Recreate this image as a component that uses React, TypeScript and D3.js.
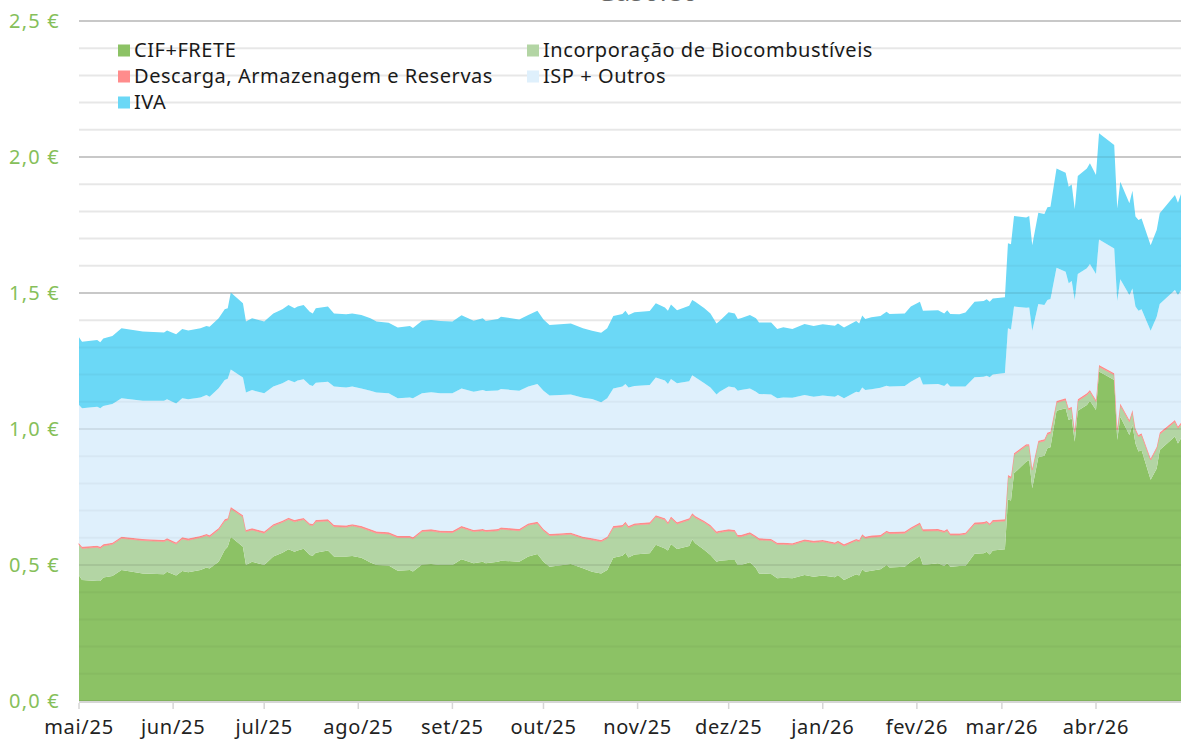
import React from "react";
import * as d3 from "d3";

const dates = [
  "2025-05-01","2025-05-02","2025-05-07","2025-05-08","2025-05-09","2025-05-12","2025-05-15","2025-05-22","2025-05-29","2025-05-30",
  "2025-06-02","2025-06-04","2025-06-06","2025-06-10","2025-06-12","2025-06-13","2025-06-16","2025-06-18","2025-06-19","2025-06-20",
  "2025-06-24","2025-06-25","2025-06-27","2025-07-01","2025-07-04","2025-07-07","2025-07-09","2025-07-11","2025-07-12","2025-07-14",
  "2025-07-16","2025-07-17","2025-07-18","2025-07-22","2025-07-24","2025-07-28","2025-07-30","2025-08-02","2025-08-05","2025-08-07",
  "2025-08-11","2025-08-14","2025-08-18","2025-08-19","2025-08-22","2025-08-25","2025-08-28","2025-09-01","2025-09-04","2025-09-08",
  "2025-09-11","2025-09-12","2025-09-16","2025-09-17","2025-09-23","2025-09-26","2025-09-29","2025-10-01","2025-10-03","2025-10-10",
  "2025-10-14","2025-10-17","2025-10-20","2025-10-22","2025-10-24","2025-10-27","2025-10-28","2025-10-29","2025-10-31","2025-11-05",
  "2025-11-07","2025-11-10","2025-11-11","2025-11-12","2025-11-14","2025-11-18","2025-11-19","2025-11-20","2025-11-23","2025-11-25",
  "2025-11-27","2025-11-28","2025-12-01","2025-12-03","2025-12-04","2025-12-05","2025-12-08","2025-12-10","2025-12-11","2025-12-15",
  "2025-12-17","2025-12-19","2025-12-22","2025-12-26","2025-12-29","2026-01-01","2026-01-05","2026-01-06","2026-01-08","2026-01-12",
  "2026-01-13","2026-01-14","2026-01-15","2026-01-17","2026-01-20","2026-01-22","2026-01-23","2026-01-28","2026-01-30","2026-02-02",
  "2026-02-03","2026-02-08","2026-02-10","2026-02-11","2026-02-12","2026-02-15","2026-02-17","2026-02-20","2026-02-23","2026-02-24",
  "2026-02-25","2026-02-26","2026-03-02","2026-03-03","2026-03-04","2026-03-05","2026-03-09","2026-03-10","2026-03-11","2026-03-13",
  "2026-03-15","2026-03-16","2026-03-17","2026-03-19","2026-03-22","2026-03-23","2026-03-24","2026-03-25","2026-03-26","2026-03-29",
  "2026-03-30","2026-04-01","2026-04-02","2026-04-07","2026-04-08","2026-04-09","2026-04-12","2026-04-13","2026-04-14","2026-04-15",
  "2026-04-16","2026-04-19","2026-04-21","2026-04-22","2026-04-27","2026-04-28","2026-04-29",
];

const cif = [
  0.461,0.445,0.441,0.441,0.454,0.460,0.482,0.469,0.466,0.475,
  0.461,0.478,0.473,0.482,0.491,0.487,0.512,0.555,0.567,0.604,
  0.567,0.500,0.512,0.500,0.531,0.545,0.558,0.549,0.553,0.560,
  0.537,0.534,0.545,0.553,0.531,0.531,0.533,0.527,0.509,0.500,
  0.498,0.479,0.482,0.476,0.502,0.504,0.500,0.500,0.521,0.506,
  0.512,0.506,0.512,0.516,0.512,0.531,0.540,0.512,0.494,0.504,
  0.488,0.475,0.469,0.482,0.527,0.534,0.545,0.528,0.539,0.543,
  0.574,0.561,0.553,0.577,0.559,0.570,0.594,0.580,0.555,0.537,
  0.512,0.516,0.518,0.518,0.500,0.500,0.510,0.488,0.469,0.467,
  0.451,0.453,0.451,0.463,0.457,0.461,0.455,0.463,0.445,0.466,
  0.461,0.484,0.475,0.479,0.484,0.500,0.491,0.494,0.512,0.533,
  0.500,0.506,0.496,0.506,0.494,0.496,0.496,0.541,0.543,0.549,
  0.539,0.553,0.558,0.741,0.737,0.837,0.880,0.886,0.782,0.896,
  0.902,0.929,0.933,1.067,1.076,1.033,1.039,0.953,1.067,1.088,
  1.104,1.070,1.211,1.180,0.960,1.045,0.978,1.015,0.947,0.917,
  0.923,0.813,0.855,0.923,0.972,0.947,0.966,
];

const bio = [
  0.113,0.116,0.124,0.120,0.116,0.116,0.116,0.121,0.120,0.117,
  0.116,0.118,0.118,0.119,0.117,0.116,0.118,0.107,0.099,0.103,
  0.110,0.123,0.117,0.117,0.113,0.112,0.110,0.110,0.109,0.107,
  0.110,0.111,0.114,0.109,0.110,0.108,0.111,0.110,0.116,0.117,
  0.116,0.122,0.119,0.120,0.121,0.121,0.120,0.119,0.116,0.117,
  0.114,0.117,0.114,0.116,0.114,0.116,0.113,0.114,0.114,0.109,
  0.110,0.117,0.117,0.116,0.110,0.107,0.108,0.109,0.108,0.108,
  0.103,0.105,0.098,0.095,0.092,0.096,0.090,0.094,0.101,0.104,
  0.105,0.104,0.107,0.105,0.104,0.104,0.104,0.113,0.123,0.123,
  0.125,0.123,0.123,0.125,0.126,0.125,0.122,0.120,0.125,0.124,
  0.125,0.123,0.123,0.123,0.120,0.120,0.124,0.123,0.120,0.117,
  0.125,0.120,0.124,0.120,0.116,0.114,0.117,0.109,0.109,0.107,
  0.108,0.106,0.104,0.084,0.082,0.068,0.058,0.052,0.067,0.055,
  0.054,0.052,0.051,0.030,0.031,0.037,0.037,0.037,0.036,0.037,
  0.033,0.031,0.018,0.019,0.036,0.043,0.049,0.049,0.049,0.055,
  0.055,0.073,0.074,0.058,0.055,0.056,0.051,
];

const descarga = [
  0.006,0.006,0.006,0.006,0.006,0.006,0.006,0.006,0.006,0.006,
  0.006,0.006,0.006,0.006,0.006,0.006,0.006,0.006,0.006,0.006,
  0.006,0.006,0.006,0.006,0.006,0.006,0.006,0.006,0.006,0.006,
  0.006,0.006,0.006,0.006,0.006,0.006,0.006,0.006,0.006,0.006,
  0.006,0.006,0.006,0.006,0.006,0.006,0.006,0.006,0.006,0.006,
  0.006,0.006,0.006,0.006,0.006,0.006,0.006,0.006,0.006,0.006,
  0.006,0.006,0.006,0.006,0.006,0.006,0.006,0.006,0.006,0.006,
  0.006,0.006,0.006,0.006,0.006,0.006,0.006,0.006,0.006,0.006,
  0.006,0.006,0.006,0.006,0.006,0.006,0.006,0.006,0.006,0.006,
  0.006,0.006,0.006,0.006,0.006,0.006,0.006,0.006,0.006,0.006,
  0.006,0.006,0.006,0.006,0.006,0.006,0.006,0.006,0.006,0.006,
  0.006,0.006,0.006,0.006,0.006,0.006,0.006,0.006,0.006,0.006,
  0.006,0.006,0.006,0.006,0.006,0.006,0.006,0.006,0.006,0.006,
  0.006,0.006,0.006,0.006,0.006,0.006,0.006,0.006,0.006,0.006,
  0.006,0.006,0.006,0.006,0.006,0.006,0.006,0.006,0.006,0.006,
  0.006,0.006,0.006,0.006,0.006,0.006,0.006,
];

const isp = [
  0.508,0.509,0.511,0.509,0.509,0.510,0.509,0.508,0.512,0.511,
  0.511,0.511,0.512,0.509,0.511,0.510,0.514,0.512,0.513,0.506,
  0.506,0.505,0.508,0.508,0.506,0.505,0.506,0.507,0.510,0.510,
  0.509,0.507,0.505,0.506,0.509,0.508,0.506,0.506,0.510,0.511,
  0.511,0.506,0.509,0.511,0.502,0.504,0.505,0.506,0.506,0.508,
  0.511,0.511,0.510,0.509,0.509,0.503,0.506,0.509,0.509,0.508,
  0.511,0.512,0.506,0.509,0.506,0.509,0.506,0.510,0.505,0.505,
  0.506,0.506,0.508,0.506,0.511,0.504,0.508,0.510,0.506,0.506,
  0.504,0.511,0.525,0.524,0.531,0.533,0.529,0.530,0.531,0.531,
  0.531,0.534,0.535,0.531,0.530,0.531,0.536,0.536,0.537,0.541,
  0.543,0.540,0.539,0.538,0.542,0.533,0.535,0.535,0.536,0.536,
  0.533,0.533,0.532,0.536,0.540,0.540,0.537,0.534,0.534,0.534,
  0.537,0.535,0.538,0.539,0.541,0.539,0.502,0.503,0.506,0.503,
  0.494,0.487,0.488,0.490,0.465,0.460,0.462,0.478,0.461,0.460,
  0.464,0.463,0.462,0.459,0.469,0.457,0.460,0.447,0.448,0.457,
  0.456,0.469,0.478,0.473,0.478,0.484,0.488,
];

const iva = [
  0.249,0.245,0.245,0.243,0.248,0.250,0.257,0.254,0.251,0.253,
  0.254,0.255,0.253,0.254,0.254,0.257,0.257,0.260,0.259,0.283,
  0.273,0.261,0.264,0.264,0.269,0.272,0.276,0.272,0.272,0.273,
  0.269,0.267,0.274,0.276,0.269,0.269,0.269,0.270,0.266,0.261,
  0.260,0.260,0.263,0.258,0.267,0.266,0.266,0.264,0.269,0.261,
  0.264,0.257,0.262,0.266,0.262,0.263,0.270,0.262,0.259,0.261,
  0.255,0.251,0.256,0.257,0.266,0.267,0.270,0.266,0.271,0.272,
  0.273,0.269,0.270,0.274,0.269,0.277,0.276,0.278,0.276,0.272,
  0.261,0.260,0.273,0.272,0.263,0.264,0.270,0.270,0.263,0.265,
  0.255,0.258,0.253,0.261,0.260,0.262,0.261,0.263,0.260,0.260,
  0.253,0.264,0.261,0.265,0.263,0.272,0.267,0.267,0.276,0.276,
  0.271,0.272,0.267,0.269,0.267,0.266,0.272,0.278,0.279,0.281,
  0.278,0.280,0.278,0.313,0.313,0.333,0.332,0.336,0.315,0.335,
  0.334,0.341,0.339,0.365,0.364,0.355,0.355,0.334,0.360,0.367,
  0.370,0.364,0.390,0.380,0.340,0.358,0.337,0.359,0.331,0.333,
  0.334,0.315,0.319,0.333,0.349,0.339,0.353,
];

const seriesNames = [
  "CIF+FRETE",
  "Incorporação de Biocombustíveis",
  "Descarga, Armazenagem e Reservas",
  "ISP + Outros",
  "IVA",
];
const seriesColors = ["#8cc265", "#b3d5a4", "#ff8c8c", "#dff0fc", "#6bd8f6"];
const monthLabels = ["jan", "fev", "mar", "abr", "mai", "jun", "jul", "ago", "set", "out", "nov", "dez"];
const yTicks = [0, 0.5, 1.0, 1.5, 2.0, 2.5];
const yTickLabels = ["0,0 €", "0,5 €", "1,0 €", "1,5 €", "2,0 €", "2,5 €"];
const chartTitle = "Gasóleo";

const W = 1181;
const H = 741;
const FONT = "'Noto Sans', sans-serif";

export default function App() {
  const parse = d3.timeParse("%Y-%m-%d");
  const keys = ["cif", "bio", "descarga", "isp", "iva"];
  const table = dates.map((d, i) => ({
    date: parse(d) as Date,
    cif: cif[i],
    bio: bio[i],
    descarga: descarga[i],
    isp: isp[i],
    iva: iva[i],
  }));

  const x = d3
    .scaleTime()
    .domain([parse("2025-05-01") as Date, parse("2026-04-29") as Date])
    .range([79, 1181]);
  const y = d3.scaleLinear().domain([0, 2.5]).range([701, 21]);

  const stacked = d3.stack<any>().keys(keys)(table);
  const area = d3
    .area<any>()
    .x((d) => x(d.data.date))
    .y0((d) => y(d[0]))
    .y1((d) => y(d[1]))
    .curve(d3.curveLinear);

  const minor = d3.range(0, 26).map((v) => v / 10).filter((v) => Math.round(v * 10) % 5 !== 0);
  const months = x.ticks(d3.timeMonth.every(1) as any);

  const legendItems = [
    { i: 0, x: 118, y: 44.5 },
    { i: 1, x: 527, y: 44.5 },
    { i: 2, x: 118, y: 70.5 },
    { i: 3, x: 527, y: 70.5 },
    { i: 4, x: 118, y: 96.5 },
  ];

  return (
    <svg
      width={W}
      height={H}
      style={{ position: "absolute", left: 0, top: 0, background: "#fff" }}
      fontFamily={FONT}
    >
      <text x={647} y={1} textAnchor="middle" fontSize={27} fill="#666">
        {chartTitle}
      </text>
      {minor.map((v) => (
        <line key={"mn" + v} x1={79} x2={1181} y1={y(v)} y2={y(v)} stroke="#f0f0f0" strokeWidth={2} />
      ))}
      {yTicks.map((v) => (
        <line key={"mj" + v} x1={79} x2={1181} y1={y(v)} y2={y(v)} stroke="#d9d9d9" strokeWidth={2} />
      ))}
      {stacked.map((s, i) => (
        <path
          key={keys[i]}
          d={area(s) as string}
          fill={seriesColors[i]}
          stroke={i === 2 ? seriesColors[i] : "none"}
          strokeWidth={i === 2 ? 0.6 : 0}
        />
      ))}
      {minor.map((v) => (
        <line key={"mno" + v} x1={79} x2={1181} y1={y(v)} y2={y(v)} stroke="rgba(0,0,0,0.035)" strokeWidth={2} />
      ))}
      {yTicks.map((v) => (
        <line key={"mjo" + v} x1={79} x2={1181} y1={y(v)} y2={y(v)} stroke="rgba(0,0,0,0.08)" strokeWidth={2} />
      ))}
      <line x1={79} x2={1181} y1={702} y2={702} stroke="#d6d6d6" strokeWidth={2} />
      {months.map((m) => (
        <g key={m.toISOString()}>
          <line x1={x(m)} x2={x(m)} y1={703} y2={709} stroke="#d6d6d6" strokeWidth={1.5} />
          <text x={x(m)} y={734} textAnchor="middle" fontSize={20} letterSpacing={0.7} fill="#222">
            {monthLabels[m.getMonth()] + "/" + String(m.getFullYear()).slice(2)}
          </text>
        </g>
      ))}
      {yTicks.map((v, i) => (
        <text key={"yl" + v} x={60} y={y(v) + 7} textAnchor="end" fontSize={20} letterSpacing={1.2} fill="#86bf5a">
          {yTickLabels[i]}
        </text>
      ))}
      {legendItems.map((it) => (
        <g key={"lg" + it.i}>
          <rect x={it.x} y={it.y} width={12} height={12} fill={seriesColors[it.i]} />
          <text x={134} dx={it.x - 118} y={it.y + 12.2} fontSize={20} letterSpacing={0.55} fill="#1a1a1a">
            {seriesNames[it.i]}
          </text>
        </g>
      ))}
    </svg>
  );
}
